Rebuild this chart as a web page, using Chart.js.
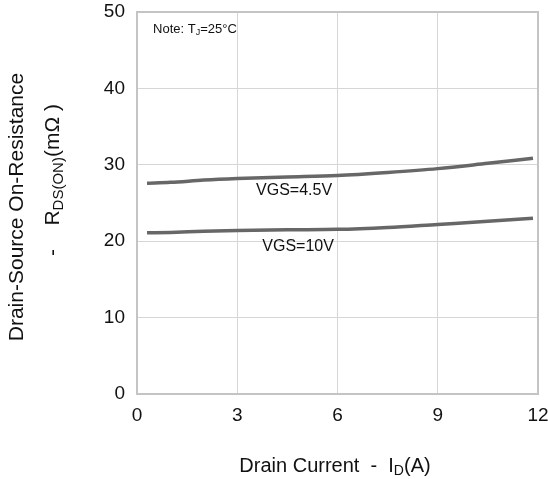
<!DOCTYPE html>
<html>
<head>
<meta charset="utf-8">
<script src="https://cdn.jsdelivr.net/npm/chart.js@4/dist/chart.umd.min.js"></script>
<style>
  html, body { margin: 0; padding: 0; background: #fff; }
  #wrap { width: 548px; height: 479px; position: relative; }
</style>
</head>
<body>
<div id="wrap"><canvas id="rdsChart"></canvas></div>
<script>
// Drain current samples (A)
const currentA = [0.3, 1.0, 2.0, 3.0, 4.5, 6.0, 7.5, 9.0, 10.5, 11.85];
// On-resistance (mOhm) per gate voltage
const rdsVgs45 = [27.6, 27.7, 28.0, 28.2, 28.4, 28.6, 29.0, 29.5, 30.2, 30.85];
const rdsVgs10 = [21.1, 21.15, 21.3, 21.4, 21.5, 21.55, 21.8, 22.2, 22.6, 23.0];
const xTicks = [0, 3, 6, 9, 12];
const yTicks = [0, 10, 20, 30, 40, 50];
const curveLabels = [
    { text: 'VGS=4.5V', x: 4.7, y: 26.6 },
    { text: 'VGS=10V', x: 4.82, y: 19.25 }
];

const FONT = '"Liberation Sans", Arial, sans-serif';

function toPoints(xs, ys) {
    return xs.map((x, i) => ({ x: x, y: ys[i] }));
}

// draws a string made of [text, isSubscript] pieces, centred on (cx, cy)
function drawRich(ctx, parts, cx, cy, size) {
    const subSize = Math.round(size * 0.72);
    let total = 0;
    parts.forEach(p => {
        ctx.font = (p[1] ? subSize : size) + 'px ' + FONT;
        total += ctx.measureText(p[0]).width;
    });
    let x = cx - total / 2;
    ctx.textAlign = 'left';
    ctx.textBaseline = 'middle';
    parts.forEach(p => {
        ctx.font = (p[1] ? subSize : size) + 'px ' + FONT;
        ctx.fillText(p[0], x, p[1] ? cy + size * 0.28 : cy);
        x += ctx.measureText(p[0]).width;
    });
}

// keep tick labels from pushing the plot area inwards
function noOverhang(s) {
    s.paddingTop = 0;
    s.paddingBottom = 0;
    s.paddingLeft = 0;
    s.paddingRight = 0;
}

const annotations = {
    id: 'annotations',
    afterDraw(chart) {
        const ctx = chart.ctx;
        const xs = chart.scales.x, ys = chart.scales.y;
        ctx.save();
        ctx.fillStyle = '#111';

        // curve labels
        curveLabels.forEach(l => {
            ctx.font = '16px ' + FONT;
            ctx.textAlign = 'center';
            ctx.textBaseline = 'middle';
            ctx.fillText(l.text, xs.getPixelForValue(l.x), ys.getPixelForValue(l.y));
        });

        // note
        drawRich(ctx, [['Note: T', false], ['J', true], ['=25°C', false]], 195, 29, 13);

        // x axis title
        drawRich(ctx, [['Drain Current  ', false], ['-', false], ['  I', false], ['D', true], ['(A)', false]], 335, 466, 20);

        // y axis title, two rotated lines
        ctx.save();
        ctx.translate(17, 207);
        ctx.rotate(-Math.PI / 2);
        drawRich(ctx, [['Drain-Source On-Resistance', false]], 0, 0, 21);
        ctx.restore();

        ctx.save();
        ctx.translate(53, 180);
        ctx.rotate(-Math.PI / 2);
        drawRich(ctx, [['-    R', false], ['DS(ON)', true], ['(mΩ )', false]], 0, 0, 21);
        ctx.restore();

        ctx.restore();
    }
};

const lineStyle = {
    borderColor: '#676767',
    borderWidth: 3.5,
    pointRadius: 0,
    showLine: true,
    fill: false,
    cubicInterpolationMode: 'monotone'
};

new Chart(document.getElementById('rdsChart'), {
    type: 'scatter',
    data: {
        datasets: [
            Object.assign({ label: 'VGS=4.5V', data: toPoints(currentA, rdsVgs45) }, lineStyle),
            Object.assign({ label: 'VGS=10V', data: toPoints(currentA, rdsVgs10) }, lineStyle)
        ]
    },
    options: {
        responsive: true,
        maintainAspectRatio: false,
        animation: false,
        layout: { padding: { left: 0, right: 10, top: 12, bottom: 0 } },
        plugins: {
            legend: { display: false },
            tooltip: { enabled: false }
        },
        scales: {
            x: {
                type: 'linear',
                min: 0,
                max: 12,
                afterBuildTicks: s => { s.ticks = xTicks.map(v => ({ value: v })); },
                afterFit: s => { s.height = 85; noOverhang(s); },
                grid: { color: '#d6d6d6', lineWidth: 1, drawTicks: false },
                border: { color: '#c4c4c4', width: 2 },
                ticks: { color: '#111', font: { family: FONT, size: 19 }, padding: 10, maxRotation: 0 }
            },
            y: {
                min: 0,
                max: 50,
                afterBuildTicks: s => { s.ticks = yTicks.map(v => ({ value: v })); },
                afterFit: s => { s.width = 137; noOverhang(s); },
                grid: { color: '#d6d6d6', lineWidth: 1, drawTicks: false },
                border: { color: '#c4c4c4', width: 2 },
                ticks: { color: '#111', font: { family: FONT, size: 19 }, padding: 12 }
            }
        }
    },
    plugins: [annotations, {
        id: 'frame',
        afterDatasetsDraw(chart) {
            // top and right edges of the plot frame
            const a = chart.chartArea, ctx = chart.ctx;
            ctx.save();
            ctx.strokeStyle = '#c4c4c4';
            ctx.lineWidth = 2;
            ctx.beginPath();
            ctx.moveTo(a.left, a.top);
            ctx.lineTo(a.right, a.top);
            ctx.lineTo(a.right, a.bottom);
            ctx.stroke();
            ctx.restore();
        }
    }]
});
</script>
</body>
</html>
